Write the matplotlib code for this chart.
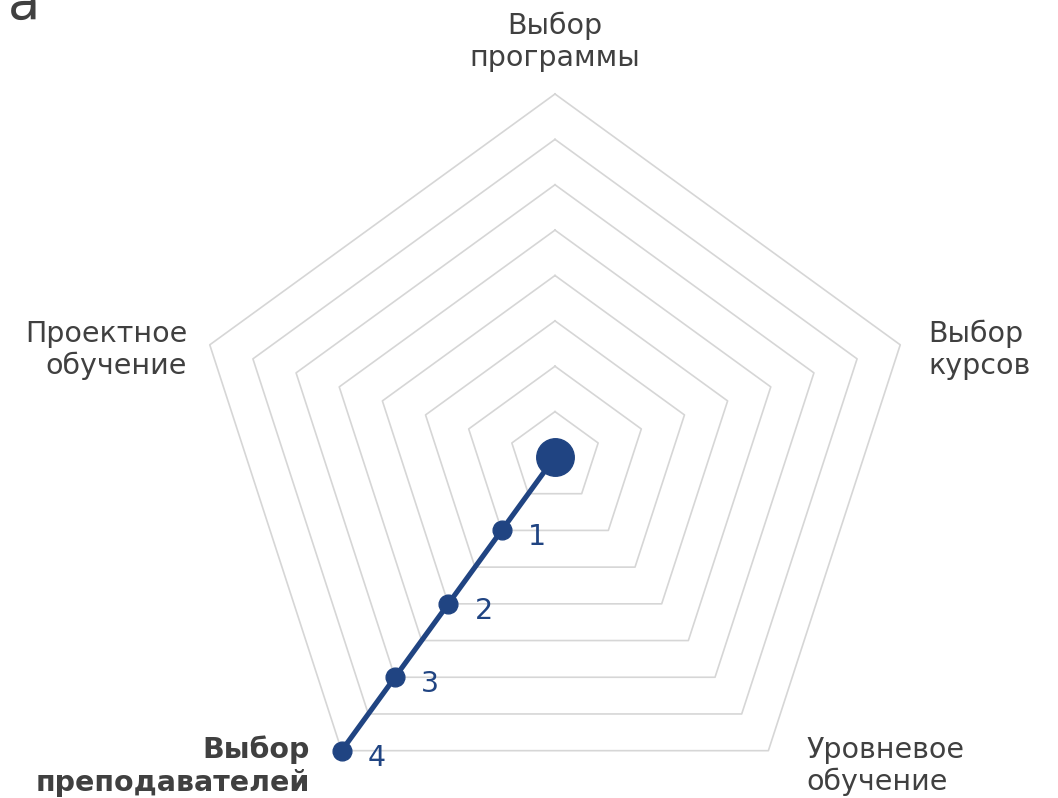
import numpy as np
import matplotlib
matplotlib.use("Agg")
from matplotlib import pyplot as plt

# axis categories (clockwise from the top)
categories = ["Выбор\nпрограммы", "Выбор\nкурсов", "Уровневое\nобучение",
              "Выбор\nпреподавателей", "Проектное\nобучение"]
active_axis = 3          # index of the highlighted axis
r_max = 4
ring_step = 0.5
step_values = [1, 2, 3, 4]
step_labels = ["1", "2", "3", "4"]

blue = "#204482"
grid_col = "#d6d6d6"
text_col = "#404040"

fig = plt.figure(figsize=(10.58, 7.98), dpi=100)
W, H = 1058, 798
cx, cy, R = 555, 457, 363
ax = fig.add_axes([(cx - R) / W, 1 - (cy + R) / H, 2 * R / W, 2 * R / H], projection="polar")
ax.set_theta_offset(np.pi / 2)
ax.set_theta_direction(-1)
ax.set_ylim(0, r_max)
ax.grid(False)
ax.set_xticks([])
ax.set_yticks([])
ax.spines["polar"].set_visible(False)
ax.patch.set_alpha(0)

n = len(categories)
angles = np.arange(n) * 2 * np.pi / n
closed = np.append(angles, angles[0])

# pentagon rings
for r in np.arange(ring_step, r_max + 0.01, ring_step):
    ax.plot(closed, [r] * (n + 1), color=grid_col, lw=1.2, clip_on=False, zorder=1)

# line from the centre out along the active axis
theta = angles[active_axis]
ax.plot([theta] * (len(step_values) + 1), [0] + step_values, color=blue, lw=3.7,
        solid_capstyle="round", clip_on=False, zorder=3)
ax.plot([theta] * len(step_values), step_values, "o", color=blue, ms=13.5,
        clip_on=False, zorder=4)
ax.plot([0], [0], "o", color=blue, ms=27, clip_on=False, zorder=4)

for v, lab in zip(step_values, step_labels):
    ax.annotate(lab, xy=(theta, v), xytext=(19, -5), textcoords="offset points",
                ha="left", va="center", fontsize=20.5, color=blue)

# axis labels
fs = 20.5
fig.text(cx / W, 1 - 42 / H, categories[0], ha="center", va="center", fontsize=fs,
         color=text_col, linespacing=1.2)
fig.text(928 / W, 1 - 350 / H, categories[1], ha="left", va="center", fontsize=fs,
         color=text_col, linespacing=1.2)
fig.text(806 / W, 1 - 766 / H, categories[2], ha="left", va="center", fontsize=fs,
         color=text_col, linespacing=1.2)
fig.text(310 / W, 1 - 766 / H, categories[3], ha="right", va="center", fontsize=fs,
         color=text_col, fontweight="bold", linespacing=1.2)
fig.text(187 / W, 1 - 350 / H, categories[4], ha="right", va="center", fontsize=fs,
         color=text_col, linespacing=1.2)

fig.text(8 / W, 1 - 19 / H, "a", ha="left", va="baseline", fontsize=38, color=text_col)

fig.savefig("out.png", dpi=100)
